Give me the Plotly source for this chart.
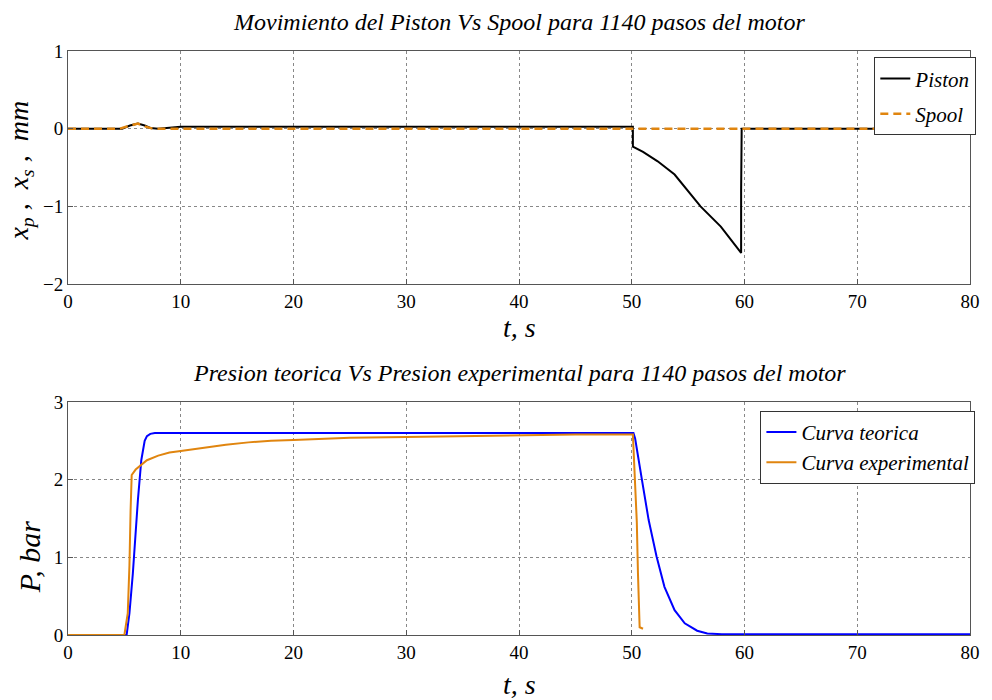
import plotly.graph_objects as go
from plotly.subplots import make_subplots

# ---- data ----
t_piston = [0, 4.8, 5.5, 6.2, 6.8, 7.3, 8, 10, 50.1, 50.1, 51.0, 52.3, 53.8, 55.0, 56.1, 57.9, 59.7, 59.7, 59.75, 80]
x_piston = [0, 0, 0.04, 0.065, 0.04, 0.01, 0.0, 0.025, 0.025, -0.23, -0.30, -0.42, -0.59, -0.80, -1.0, -1.26, -1.6, -0.8, 0, 0]

t_spool = [0, 4.6, 5.5, 6.2, 6.8, 7.5, 10, 80]
x_spool = [0, 0, 0.04, 0.065, 0.03, 0, 0, 0]

t_teo = [0, 5.2, 5.45, 5.75, 6.2, 6.5, 6.8, 7.0, 7.3, 7.7, 50.15, 50.3, 50.9, 51.5, 52.2, 52.9, 53.8, 54.7, 55.8, 56.7, 58, 80]
p_teo = [0, 0, 0.28, 0.79, 1.74, 2.25, 2.5, 2.56, 2.59, 2.6, 2.6, 2.53, 2.0, 1.48, 1.01, 0.62, 0.32, 0.15, 0.055, 0.02, 0.01, 0.01]

t_exp = [0, 5.0, 5.3, 5.45, 5.55, 5.65, 6.0, 6.4, 7.0, 8.0, 9.0, 10, 12, 14, 16, 18, 20, 25, 30, 35, 40, 45, 50.1, 50.25, 50.45, 50.55, 50.7, 51.0]
p_exp = [0, 0, 0.28, 0.9, 1.6, 2.06, 2.13, 2.18, 2.25, 2.31, 2.35, 2.37, 2.41, 2.45, 2.48, 2.5, 2.51, 2.54, 2.55, 2.56, 2.57, 2.58, 2.58, 2.04, 1.45, 0.8, 0.1, 0.08]

x_ticks = [0, 10, 20, 30, 40, 50, 60, 70, 80]
y_ticks_top = [-2, -1, 0, 1]
y_ticks_bot = [0, 1, 2, 3]

title_top = "Movimiento del Piston Vs Spool para 1140 pasos del motor"
title_bot = "Presion teorica Vs Presion experimental para 1140 pasos del motor"

ORANGE = "#E0850F"
FONT = "Liberation Serif"

fig = make_subplots(rows=2, cols=1, vertical_spacing=0.202)

fig.add_trace(go.Scatter(x=t_piston, y=x_piston, mode="lines", name="<i>Piston</i>",
                         line=dict(color="black", width=2), legend="legend", legendgroup="a"), row=1, col=1)
fig.add_trace(go.Scatter(x=t_spool, y=x_spool, mode="lines", name="<i>Spool</i>",
                         line=dict(color=ORANGE, width=2.5, dash="8px,5px"), legend="legend", legendgroup="b"), row=1, col=1)
fig.add_trace(go.Scatter(x=t_teo, y=p_teo, mode="lines", name="<i>Curva teorica</i>",
                         line=dict(color="#0000FF", width=2), legend="legend2"), row=2, col=1)
fig.add_trace(go.Scatter(x=t_exp, y=p_exp, mode="lines", name="<i>Curva experimental</i>",
                         line=dict(color=ORANGE, width=2), legend="legend2"), row=2, col=1)

axis_common = dict(showline=True, mirror=True, linecolor="#555555", linewidth=1,
                   ticks="inside", ticklen=5, tickcolor="#555555",
                   showgrid=True, gridcolor="#888888", griddash="dot", gridwidth=1,
                   zeroline=False, tickfont=dict(family=FONT, size=19, color="black"))

fig.update_xaxes(range=[0, 80], tickvals=x_ticks, **axis_common)
fig.update_yaxes(range=[-2, 1], tickvals=y_ticks_top, row=1, col=1, **axis_common)
fig.update_yaxes(range=[0, 3], tickvals=y_ticks_bot, row=2, col=1, **axis_common)

fig.update_layout(
    width=992, height=700,
    margin=dict(l=68, r=14, t=51, b=65),
    paper_bgcolor="white", plot_bgcolor="white",
    font=dict(family=FONT, color="black"),
    legend=dict(x=1.007, y=0.989, xanchor="right", yanchor="top",
                bordercolor="#333333", borderwidth=1, bgcolor="white",
                font=dict(family=FONT, size=21), tracegroupgap=5),
    legend2=dict(x=1.006, y=0.384, xanchor="right", yanchor="top",
                 bordercolor="#333333", borderwidth=1, bgcolor="white",
                 font=dict(family=FONT, size=21)),
    annotations=[
        dict(text="<i>" + title_top + "</i>", x=0.5, y=1.0497, xref="paper", yref="paper",
             showarrow=False, font=dict(family=FONT, size=24), xanchor="center", yanchor="middle"),
        dict(text="<i>" + title_bot + "</i>", x=0.5, y=0.4486, xref="paper", yref="paper",
             showarrow=False, font=dict(family=FONT, size=24), xanchor="center", yanchor="middle"),
        dict(text="<i>t, s</i>", x=0.5, y=0.5257, xref="paper", yref="paper",
             showarrow=False, font=dict(family=FONT, size=28), xanchor="center", yanchor="middle"),
        dict(text="<i>t, s</i>", x=0.5, y=-0.0856, xref="paper", yref="paper",
             showarrow=False, font=dict(family=FONT, size=28), xanchor="center", yanchor="middle"),
        dict(text="<i>x<sub>p</sub> ,  x<sub>s</sub> ,  mm</i>", x=-0.0527, y=0.796, xref="paper", yref="paper",
             showarrow=False, font=dict(family=FONT, size=28), textangle=-90,
             xanchor="center", yanchor="middle"),
        dict(text="<i>P, bar</i>", x=-0.0418, y=0.1336, xref="paper", yref="paper",
             showarrow=False, font=dict(family=FONT, size=30), textangle=-90,
             xanchor="center", yanchor="middle"),
    ],
)

fig.write_html("out.html")
